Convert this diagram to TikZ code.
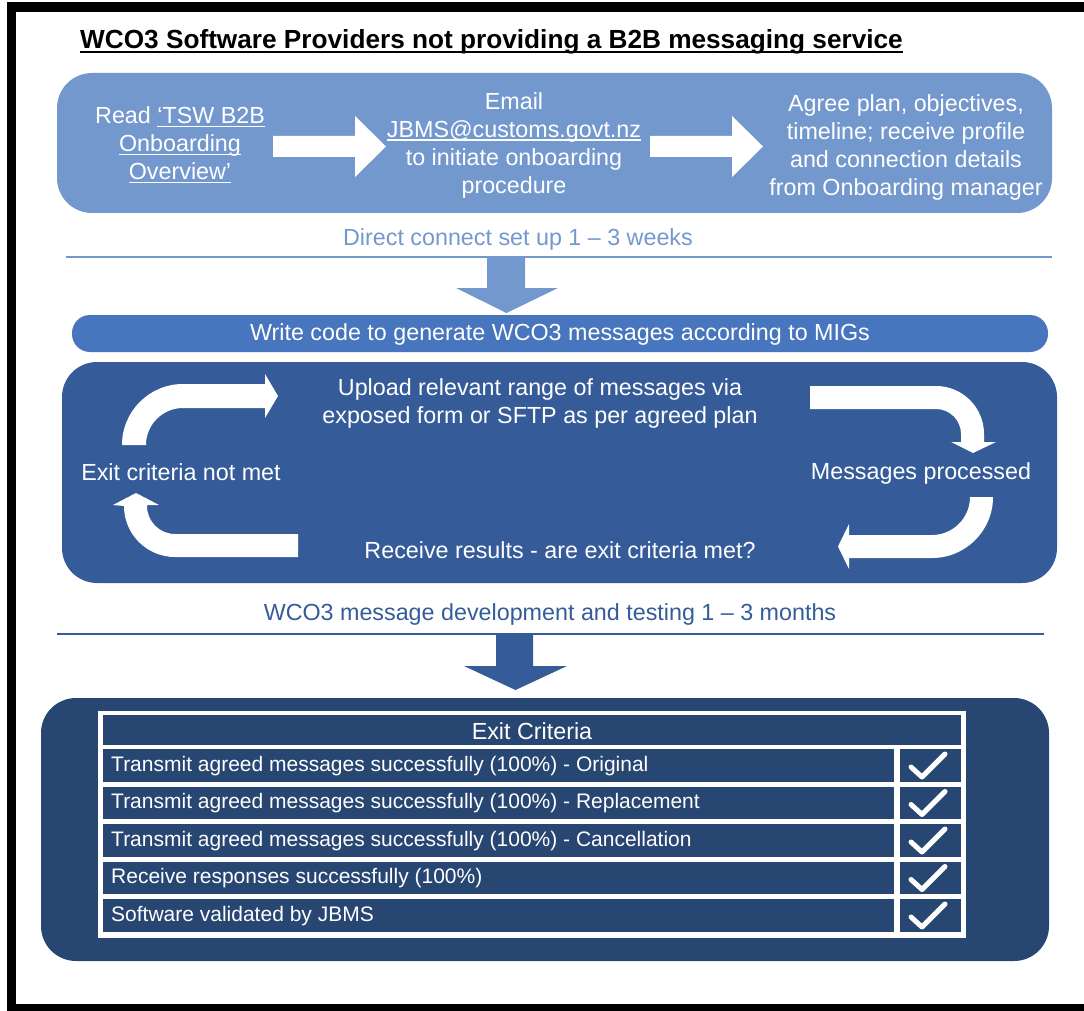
\documentclass[tikz,border=0pt]{standalone}
\usepackage{fontspec}
\setmainfont{Liberation Sans}
\usetikzlibrary{positioning}
\definecolor{paleblue}{HTML}{7398CE}
\definecolor{midblue}{HTML}{4775BE}
\definecolor{deepblue}{HTML}{355C99}
\definecolor{navyblue}{HTML}{284672}
\tikzset{
  wtext/.style={text=white,font=\fontsize{23.3}{28}\selectfont,align=center,inner sep=0pt},
  rowtext/.style={text=white,font=\fontsize{21}{25}\selectfont,anchor=west,inner sep=0pt},
  tickmark/.style={white,line width=5pt,line cap=round,line join=round},
}
\newcommand\undertext[2][1.6pt]{\setbox0\hbox{#2}\rlap{\rule[-4pt]{\wd0}{#1}}\box0}

\begin{document}
\begin{tikzpicture}[x=1pt,y=1pt,yscale=-1]
  \useasboundingbox (0,0) rectangle (1084,1011);

  % FRAME AND TITLE
  \draw[line width=9.5pt] (11.5,7) rectangle (1100,1009);
  \node[anchor=base west,inner sep=0pt,font=\fontsize{26.2}{30}\selectfont\bfseries] (title) at (80,49)
    {\undertext[2.4pt]{WCO3 Software Providers not providing a B2B messaging service}};

  % ONBOARDING
  \fill[paleblue,rounded corners=35pt] (57,73) rectangle (1052,213);
  \node[wtext] (read) at (180,145) {Read \undertext{‘TSW B2B}\\ \undertext{Onboarding}\\ \undertext{Overview’}};
  \node[wtext] (email) at (514,145) {Email\\ \undertext{JBMS@customs.govt.nz}\\ to initiate onboarding\\ procedure};
  \node[wtext] (agree) at (906,147) {Agree plan, objectives,\\ timeline; receive profile\\ and connection details\\ from Onboarding manager};
  \foreach \dx in {0,377}
    \fill[white,xshift=\dx] (273,136) -- (355,136) -- (355,116) -- (386,146.5)
      -- (355,177) -- (355,157) -- (273,157) -- cycle;

  \node[wtext,text=paleblue] (setup) at (518,239) {Direct connect set up 1 – 3 weeks};
  \draw[paleblue,line width=2.5pt] (66,257) -- (1052,257);
  \fill[paleblue] (487,258) -- (525,258) -- (525,288) -- (558,288) -- (506.5,313)
    -- (456,288) -- (487,288) -- cycle;

  % CODING
  \fill[midblue,rounded corners=18pt] (72,315) rectangle (1048,352);
  \node[wtext] (code) at (560,334) {Write code to generate WCO3 messages according to MIGs};

  % TEST LOOP
  \fill[deepblue,rounded corners=35pt] (62,362) rectangle (1057,583);
  \node[wtext] (upload) at (540,403) {Upload relevant range of messages via\\ exposed form or SFTP as per agreed plan};
  \node[wtext] (notmet) at (181,472) {Exit criteria not met};
  \node[wtext] (processed) at (921,473) {Messages processed};
  \node[wtext] (results) at (560,550) {Receive results - are exit criteria met?};
  % up and right
  \fill[white] (122,445) arc (180:270:61) -- (265,384) -- (265,374) -- (278,396)
    -- (265,418) -- (265,408) -- (183,408) arc (270:180:37) -- cycle;
  % right and down
  \fill[white] (810,386) -- (936,386) arc (270:360:48) -- (984,442) -- (996,442)
    -- (973,453) -- (951,442) -- (961,442) -- (961,434) arc (0:-90:25) -- (810,409) -- cycle;
  % down and left
  \fill[white] (970,497) arc (0:90:38) -- (849,535) -- (849,524) -- (838,546.5)
    -- (849,569) -- (849,558) -- (932,558) arc (90:0:61) -- cycle;
  % left and up
  \fill[white] (298,534) -- (175,534) arc (90:180:28) -- (147,505) -- (159,505)
    -- (136,493) -- (113,505) -- (124,506) arc (180:90:51) -- (298,557) -- cycle;

  \node[wtext,text=deepblue] (testing) at (550,614) {WCO3 message development and testing 1 – 3 months};
  \draw[deepblue,line width=2.5pt] (57,634) -- (1044,634);
  \fill[deepblue] (496,635) -- (533,635) -- (533,666) -- (567,666) -- (515.5,690)
    -- (464,666) -- (496,666) -- cycle;

  % EXIT CRITERIA
  \fill[navyblue,rounded corners=35pt] (41,698) rectangle (1049,961);
  \fill[white] (98,711) rectangle (966,938);
  \fill[navyblue] (103,715) rectangle (961,745);
  \node[wtext] (exit) at (532,731) {Exit Criteria};
  \foreach \i/\txt in {0/{Transmit agreed messages successfully (100\%) - Original},
                       1/{Transmit agreed messages successfully (100\%) - Replacement},
                       2/{Transmit agreed messages successfully (100\%) - Cancellation},
                       3/{Receive responses successfully (100\%)},
                       4/{Software validated by JBMS}} {
    \pgfmathsetmacro\top{749+37.5*\i}
    \fill[navyblue] (103,\top) rectangle (894,\top+32.5);
    \fill[navyblue] (900,\top) rectangle (961,\top+32.5);
    \node[rowtext] (crit\i) at (111,\top+17) {\txt};
    \draw[tickmark] (911,\top+18) -- (922,\top+28) -- (945,\top+5);
  }
\end{tikzpicture}
\end{document}
